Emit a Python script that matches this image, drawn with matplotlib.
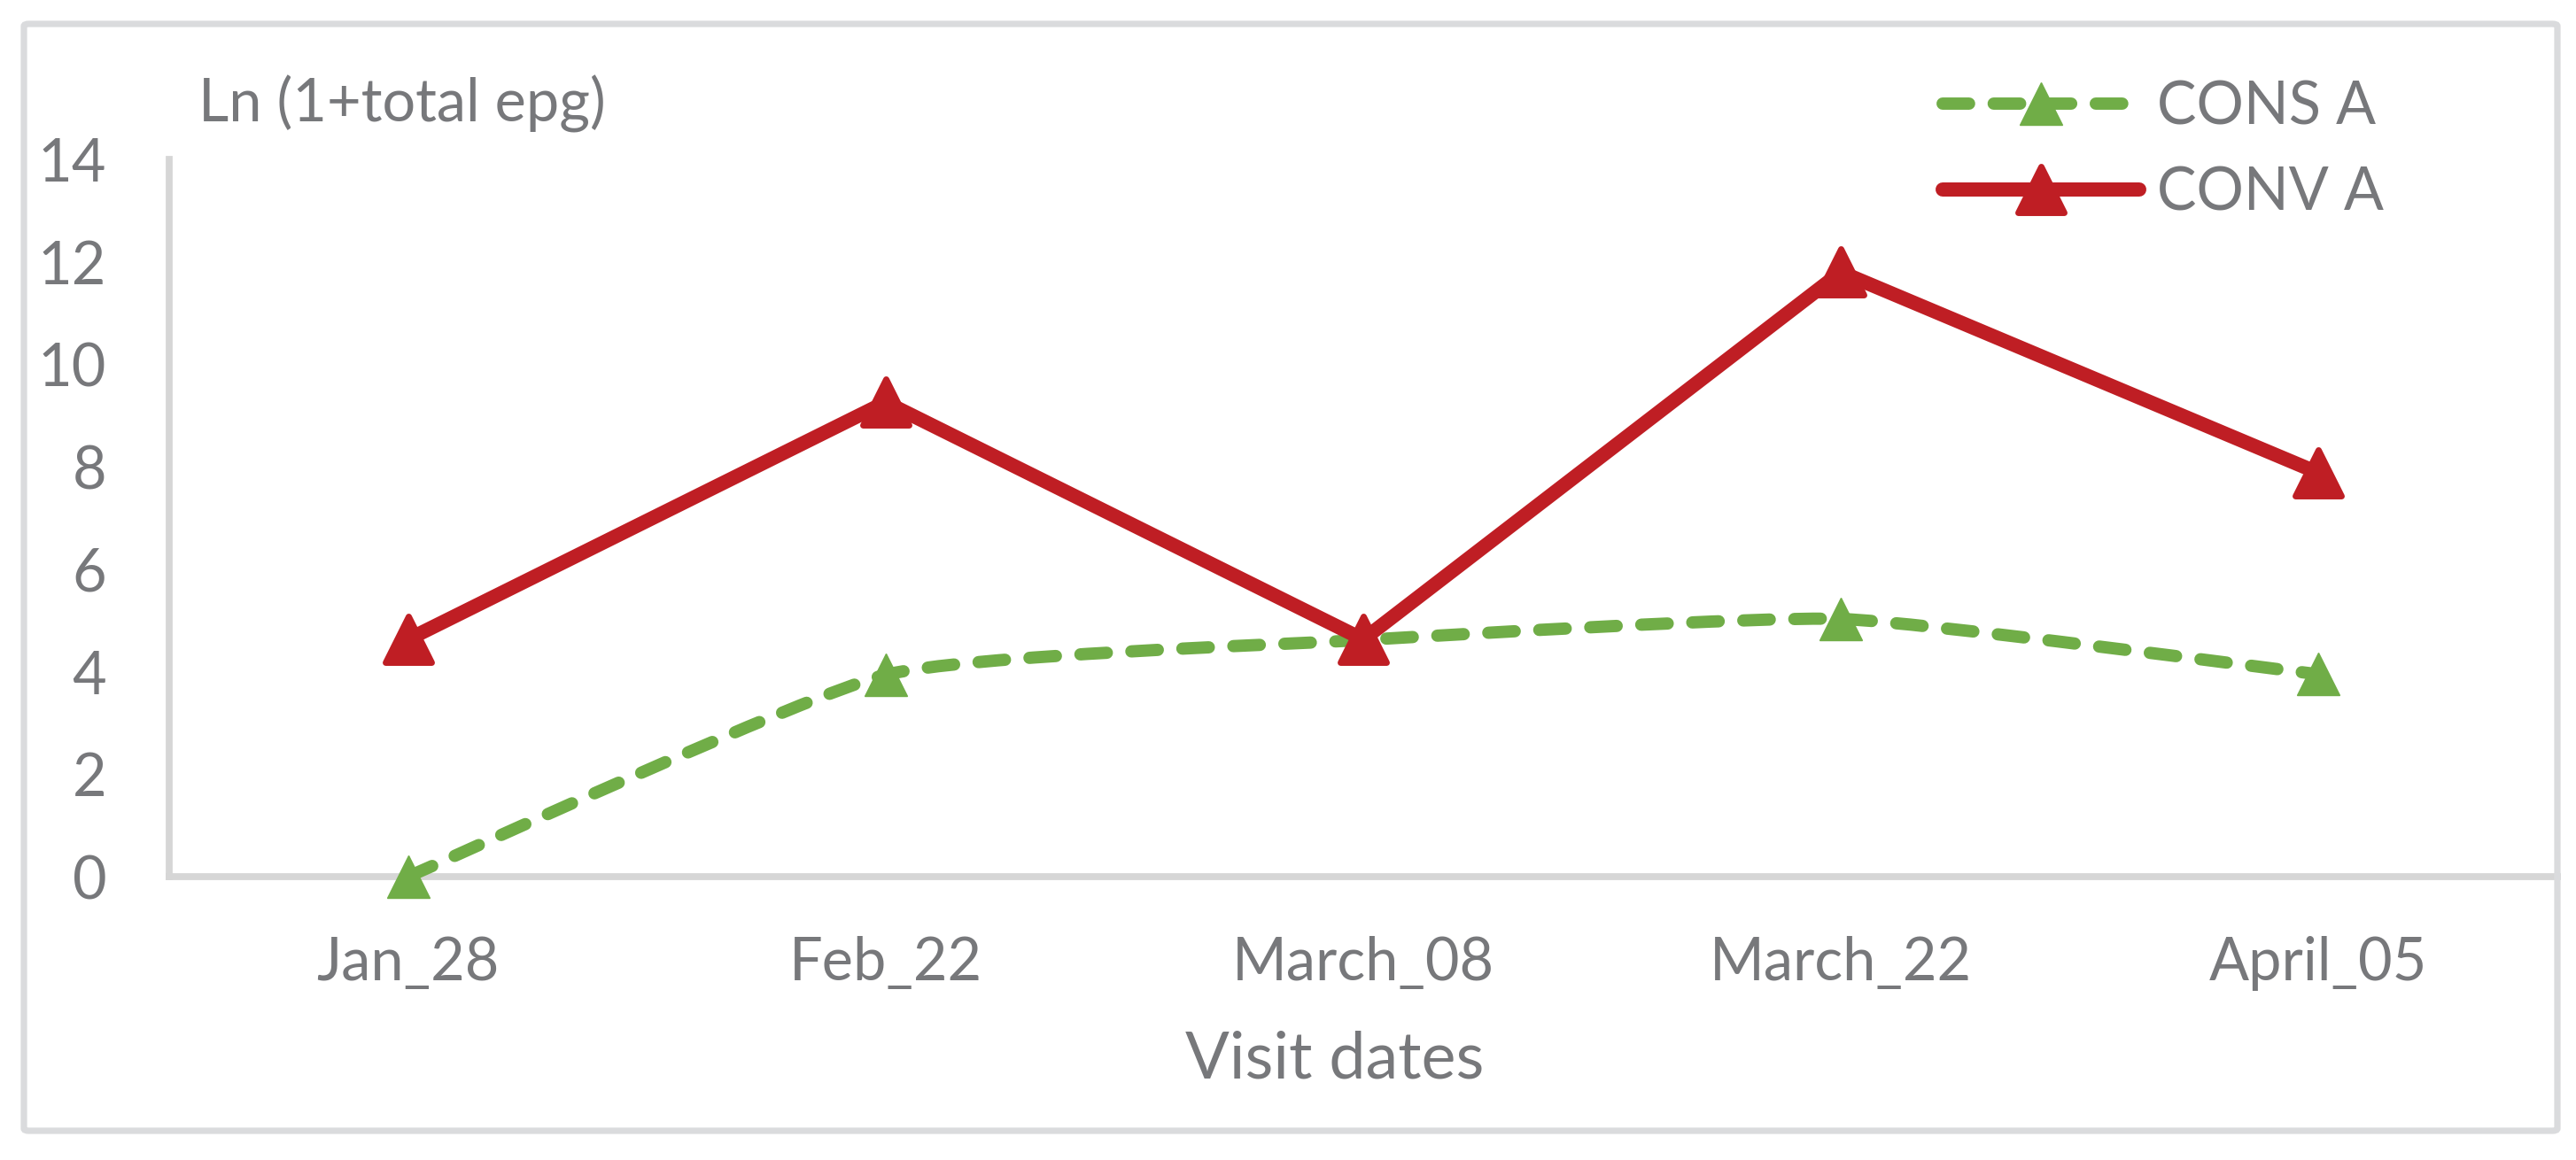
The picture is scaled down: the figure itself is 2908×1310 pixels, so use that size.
import numpy as np
import matplotlib
matplotlib.use("Agg")
import matplotlib.pyplot as plt
from matplotlib.path import Path
from matplotlib.patches import PathPatch, FancyBboxPatch
from matplotlib.lines import Line2D
from matplotlib.markers import MarkerStyle

# ---------------- data ----------------
categories = ["Jan_28", "Feb_22", "March_08", "March_22", "April_05"]
cons_a = [0.0, 3.94, 4.62, 5.03, 3.95]
conv_a = [4.63, 9.26, 4.63, 11.80, 7.88]
y_ticks = [0, 2, 4, 6, 8, 10, 12, 14]
series_names = ["CONS A", "CONV A"]
y_title = "Ln (1+total epg)"
x_title = "Visit dates"

# ---------------- style ----------------
W, H, DPI = 2908, 1310, 100
GREEN = "#70AD47"
RED = "#BF1E24"
TEXT = "#77787B"
AXIS = "#D6D6D6"
FRAME = "#DADBDD"
FS = 48          # tick / legend font size (pt)
FS_TITLE = 53    # x title font size (pt)
SMOOTH = 1.0 / 12.0   # bezier smoothing tension for the CONS A line

plt.rcParams["font.family"] = ["Lato", "DejaVu Sans"]

fig = plt.figure(figsize=(W / DPI, H / DPI), dpi=DPI)
fig.patch.set_facecolor("white")

# outer rounded frame
frame = FancyBboxPatch((27 / W, 1 - 1277 / H), (2887 - 27) / W, (1277 - 27) / H,
                       boxstyle="round,pad=0,rounding_size=0.002",
                       transform=fig.transFigure, facecolor="none",
                       edgecolor=FRAME, linewidth=5.2, zorder=0)
fig.patches.append(frame)

# axes: y-axis at x=191px, right edge 2887px, y=0 at 990px, y=14 at 180px
ax = fig.add_axes([191 / W, 1 - 990 / H, (2887 - 191) / W, (990 - 180) / H])
ax.set_facecolor("none")
x = np.arange(len(categories))
ax.set_xlim(-0.5, len(categories) - 0.5)
ax.set_ylim(0, 14)

for s in ["top", "right"]:
    ax.spines[s].set_visible(False)
for s in ["left", "bottom"]:
    ax.spines[s].set_color(AXIS)
    ax.spines[s].set_linewidth(5.6)

ax.set_yticks(y_ticks)
ax.set_yticklabels([str(v) for v in y_ticks])
ax.set_xticks(x)
ax.set_xticklabels(categories)
ax.tick_params(axis="both", length=0, labelsize=FS, labelcolor=TEXT)
ax.tick_params(axis="y", pad=51)
ax.tick_params(axis="x", pad=48)

# ---- CONS A : smoothed dashed line (Bezier smoothing through the data) ----
pts = np.column_stack([x, cons_a]).astype(float)
n = len(pts)
verts = [pts[0]]
codes = [Path.MOVETO]
for i in range(n - 1):
    p_prev = pts[max(i - 1, 0)]
    p0 = pts[i]
    p1 = pts[i + 1]
    p_next = pts[min(i + 2, n - 1)]
    c1 = p0 + (p1 - p_prev) * SMOOTH
    c2 = p1 - (p_next - p0) * SMOOTH
    verts += [c1, c2, p1]
    codes += [Path.CURVE4] * 3

green_lw = 10.0
green_dash = (0, (2.15, 2.0))
curve = PathPatch(Path(verts, codes), facecolor="none", edgecolor=GREEN,
                  linewidth=green_lw, linestyle=green_dash, capstyle="round",
                  joinstyle="round", zorder=3, clip_on=False)
ax.add_patch(curve)

green_marker = MarkerStyle("^", joinstyle="miter")
ax.plot(x, cons_a, linestyle="none", marker=green_marker, markersize=35,
        markerfacecolor=GREEN, markeredgecolor=GREEN, markeredgewidth=1.0,
        zorder=4, clip_on=False)

# ---- CONV A : solid red line ----
red_lw = 11.5
red_marker = MarkerStyle("^", joinstyle="round")
ax.plot(x, conv_a, color=RED, linewidth=red_lw, solid_joinstyle="round",
        solid_capstyle="round", zorder=5, clip_on=False)
ax.plot(x, conv_a, linestyle="none", marker=red_marker, markersize=37.5,
        markerfacecolor=RED, markeredgecolor=RED, markeredgewidth=5.0,
        zorder=6, clip_on=False)

# ---- titles ----
fig.text(224 / W, 1 - 137 / H, y_title, ha="left", va="baseline",
         fontsize=FS, color=TEXT)
fig.text(1507 / W, 1 - 1217 / H, x_title, ha="center", va="baseline",
         fontsize=FS_TITLE, color=TEXT)

# ---- legend ----
h_cons = Line2D([], [], color=GREEN, linewidth=green_lw, linestyle=green_dash,
                dash_capstyle="round", marker=green_marker, markersize=35,
                markerfacecolor=GREEN, markeredgecolor=GREEN, markeredgewidth=1.0)
h_conv = Line2D([], [], color=RED, linewidth=red_lw, solid_capstyle="round",
                marker=red_marker, markersize=37.5, markerfacecolor=RED,
                markeredgecolor=RED, markeredgewidth=5.0)
leg = ax.legend([h_cons, h_conv], series_names, loc="center left",
                bbox_to_anchor=(2193 / W, 1 - 170 / H),
                bbox_transform=fig.transFigure, frameon=False, borderpad=0,
                borderaxespad=0, handlelength=3.33, handletextpad=0.3,
                labelspacing=0.52, fontsize=FS, labelcolor=TEXT, numpoints=1)

fig.savefig("out.png", dpi=DPI, facecolor="white")
